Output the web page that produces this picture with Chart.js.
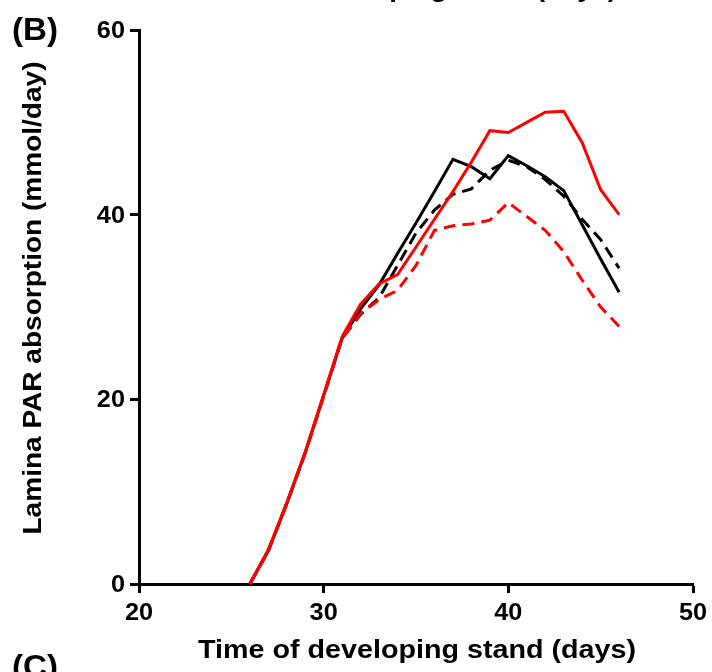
<!DOCTYPE html>
<html>
<head>
<meta charset="utf-8">
<script src="https://cdn.jsdelivr.net/npm/chart.js@4/dist/chart.umd.min.js"></script>
<style>
	html, body { margin: 0; padding: 0; background: #fff; }
	#wrap { width: 712px; height: 672px; }
</style>
</head>
<body>
<div id="wrap"><canvas id="chart" width="712" height="672"></canvas></div>
<script>
// days of the developing stand
const days = [26, 27, 28, 29, 30, 31, 32, 33, 34, 35, 36, 37, 38, 39, 40, 41, 42, 43, 44, 45, 46]

// lamina PAR absorption (mmol/day)
const redSolid = [0, 3.7, 8.8, 14.3, 20.5, 26.8, 30.3, 32.5, 33.5, 36.5, 39.5, 42.5, 45.7, 49.1, 48.9, 50.0, 51.1, 51.2, 47.8, 42.7, 40.0]
const redDashed = [0, 3.6, 8.7, 14.2, 20.3, 26.6, 29.3, 30.8, 31.8, 34.5, 38.3, 38.8, 39.0, 39.4, 41.3, 39.8, 38.3, 36.0, 32.9, 30.0, 27.9]
const blackSolid = [0, 3.6, 8.7, 14.2, 20.4, 26.6, 29.8, 32.4, 35.8, 39.1, 42.5, 46.0, 45.2, 43.9, 46.4, 45.3, 44.1, 42.6, 38.9, 35.2, 31.6]
const blackDashed = [0, 3.6, 8.7, 14.2, 20.4, 26.6, 29.2, 31.0, 34.5, 38.0, 40.5, 42.2, 42.8, 44.8, 45.9, 45.2, 43.8, 42.0, 39.5, 37.3, 34.2]

const xTicks = [20, 30, 40, 50]
const yTicks = [0, 20, 40, 60]

const xTitle = 'Time of developing stand (days)'
const yTitle = 'Lamina PAR absorption (mmol/day)'

const FONT = '"Liberation Sans", Arial, Helvetica, sans-serif'

function points(values) {
	return days.map((d, i) => ({ x: d, y: values[i] }))
}

function line(values, color, dashed) {
	return {
		data: points(values),
		borderColor: color,
		borderWidth: 3,
		borderDash: dashed ? [12, 7] : [],
		pointRadius: 0,
		tension: 0,
		fill: false,
		clip: false,
	}
}

// draws bold text, stretched to a width (or by a fixed factor)
function fitText(ctx, text, px, py, size, width, align) {
	ctx.save()
	ctx.font = 'bold ' + size + 'px ' + FONT
	const w = ctx.measureText(text).width
	const sx = width ? width / w : 1.1
	ctx.translate(px, py)
	ctx.scale(sx, 1)
	ctx.textAlign = align || 'left'
	ctx.textBaseline = 'alphabetic'
	ctx.fillText(text, 0, 0)
	ctx.restore()
}

const textPlugin = {
	id: 'panelText',
	afterDraw(chart) {
		const ctx = chart.ctx
		const xs = chart.scales.x
		const ys = chart.scales.y
		ctx.save()
		ctx.fillStyle = '#000'

		xTicks.forEach((v) => fitText(ctx, String(v), xs.getPixelForValue(v), 620, 23, null, 'center'))
		yTicks.forEach((v) => fitText(ctx, String(v), 125, ys.getPixelForValue(v) + 8, 23, null, 'right'))

		fitText(ctx, xTitle, 417, 658, 26, 438, 'center')

		ctx.save()
		ctx.translate(41, 298)
		ctx.rotate(-Math.PI / 2)
		fitText(ctx, yTitle, 0, 0, 26, 473, 'center')
		ctx.restore()

		// panel letters, and the edge of the panel above
		fitText(ctx, '(B)', 12, 40, 31, 46, 'left')
		fitText(ctx, '(C)', 12, 677, 31, 46, 'left')
		fitText(ctx, xTitle, 407, -3, 24, 420, 'center')

		ctx.restore()
	},
}

const ctx = document.getElementById('chart').getContext('2d')
new Chart(ctx, {
	type: 'line',
	data: {
		datasets: [
			line(redSolid, '#ff0000', false),
			line(redDashed, '#ff0000', true),
			line(blackDashed, '#000000', true),
			line(blackSolid, '#000000', false),
		],
	},
	options: {
		responsive: false,
		animation: false,
		layout: { padding: { top: 30, right: 19, left: 0, bottom: 0 } },
		plugins: {
			legend: { display: false },
			tooltip: { enabled: false },
		},
		scales: {
			x: {
				type: 'linear',
				min: 20,
				max: 50,
				afterFit: (scale) => { scale.height = 88 },
				afterBuildTicks: (scale) => { scale.ticks = xTicks.map((v) => ({ value: v })) },
				ticks: { display: false },
				grid: { drawOnChartArea: false, drawTicks: true, tickLength: 9, tickWidth: 3, tickColor: '#000' },
				border: { display: true, color: '#000', width: 3 },
			},
			y: {
				type: 'linear',
				min: 0,
				max: 60,
				afterFit: (scale) => { scale.width = 139 },
				afterBuildTicks: (scale) => { scale.ticks = yTicks.map((v) => ({ value: v })) },
				ticks: { display: false },
				grid: { drawOnChartArea: false, drawTicks: true, tickLength: 9, tickWidth: 3, tickColor: '#000' },
				border: { display: true, color: '#000', width: 3 },
			},
		},
	},
	plugins: [textPlugin],
})
</script>
</body>
</html>
